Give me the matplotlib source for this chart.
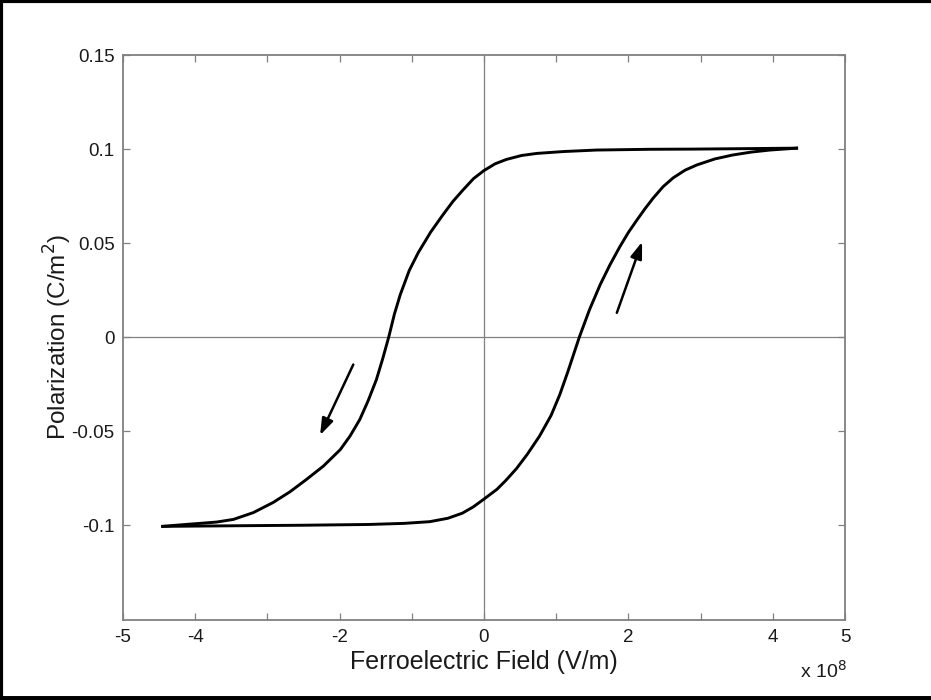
import matplotlib
matplotlib.use('Agg')
from matplotlib import pyplot as plt
from matplotlib.lines import Line2D
import numpy as np

plt.rcParams['font.family'] = ['Liberation Sans', 'DejaVu Sans']

# field in units of 1e8 V/m, polarization in C/m^2
# descending branch (field swept from +max to -max)
e_down = [4.33, 3.5, 2.9, 2.3, 1.56, 1.1, 0.73, 0.52, 0.31, 0.155, 0.0,
          -0.145, -0.29, -0.43, -0.57, -0.74, -0.91, -1.035, -1.16, -1.24, -1.32,
          -1.405, -1.49, -1.605, -1.72, -1.855, -1.99, -2.225, -2.46, -2.69, -2.92,
          -3.195, -3.47, -3.7, -3.93, -4.2, -4.45]
p_down = [0.1005, 0.1002, 0.1, 0.0999, 0.0995, 0.0987, 0.0977, 0.0966, 0.0945, 0.0922, 0.0886,
          0.0843, 0.0783, 0.0722, 0.065, 0.0558, 0.045, 0.0355, 0.0226, 0.0124, 0.0,
          -0.0117, -0.0225, -0.0338, -0.0437, -0.0525, -0.0597, -0.0685, -0.0756, -0.0822, -0.0878,
          -0.0932, -0.0968, -0.0982, -0.0989, -0.0997, -0.1005]

# ascending branch (field swept from -max back to +max)
e_up = [-4.45, -3.5, -2.5, -1.6, -1.1, -0.75, -0.5, -0.3, -0.15, 0.0,
        0.18, 0.3, 0.45, 0.6, 0.77, 0.93, 1.05, 1.16, 1.32,
        1.46, 1.61, 1.745, 1.88, 2.0, 2.12, 2.23, 2.34, 2.48, 2.62, 2.785, 2.95,
        3.2, 3.45, 3.7, 3.96, 4.33]
p_up = [-0.1005, -0.1002, -0.0999, -0.0995, -0.0989, -0.098, -0.0962, -0.0935, -0.0902, -0.086,
        -0.0808, -0.0762, -0.0698, -0.0622, -0.0525, -0.0415, -0.0305, -0.0185, 0.0,
        0.0145, 0.028, 0.0385, 0.048, 0.0557, 0.0624, 0.0683, 0.0738, 0.08, 0.0847, 0.0888, 0.0916,
        0.0948, 0.0969, 0.0984, 0.0995, 0.1005]

# sweep direction arrows: (start, end)
arrow_down = ((-1.81, -0.0145), (-2.27, -0.052))
arrow_up = ((1.84, 0.013), (2.19, 0.0507))

fig = plt.figure(figsize=(9.31, 7), dpi=100)
ax = fig.add_axes([0.1321, 0.115, 0.7755, 0.8064])

gray = '#808080'
txt = '#1a1a1a'
ax.axhline(0, color=gray, linewidth=0.9, zorder=1)
ax.axvline(0, color=gray, linewidth=0.9, zorder=1)

ax.plot(e_down, p_down, color='black', linewidth=2.1, solid_joinstyle='round', zorder=3)
ax.plot(e_up, p_up, color='black', linewidth=2.1, solid_joinstyle='round', zorder=3)

for (x0, y0), (x1, y1) in (arrow_down, arrow_up):
    ax.annotate('', xy=(x1, y1), xytext=(x0, y0),
                arrowprops=dict(arrowstyle='-|>,head_length=1.0,head_width=0.35',
                                color='black', linewidth=1.8, shrinkA=0, shrinkB=0))

ax.set_xlim(-5, 5)
ax.set_ylim(-0.15, 0.15)
ax.set_xticks(np.arange(-5, 6, 1))
ax.set_xticklabels(['-5', '-4', '', '-2', '', '0', '', '2', '', '4', '5'])
ax.set_yticks([-0.1, -0.05, 0, 0.05, 0.1, 0.15])
ax.set_yticklabels(['-0.1', '-0.05', '0', '0.05', '0.1', '0.15'])
ax.tick_params(direction='in', length=5, width=0.9, color=gray, labelsize=13.5,
               labelcolor=txt, top=True, right=True)
ax.tick_params(axis='y', pad=6)
ax.tick_params(axis='x', pad=7)
for sp in ax.spines.values():
    sp.set_color(gray)
    sp.set_linewidth(1.3)

ax.set_xlabel('Ferroelectric Field (V/m)', fontsize=18, color=txt, labelpad=3)
ax.set_ylabel('Polarization (C/m$^2$)', fontsize=17.5, color=txt)
ax.yaxis.set_label_coords(-0.0685, 0.5)
fig.text(0.859, 0.032, 'x 10$^8$', fontsize=14, color=txt)

# black frame along top, left and bottom edges
for xs, ys, lw in (([0, 1], [0.999, 0.999], 3), ([0.001, 0.001], [0, 1], 3), ([0, 1], [0.002, 0.002], 5)):
    fig.add_artist(Line2D(xs, ys, transform=fig.transFigure, color='black', linewidth=lw))

fig.savefig('out.png', dpi=100)
plt.close(fig)
